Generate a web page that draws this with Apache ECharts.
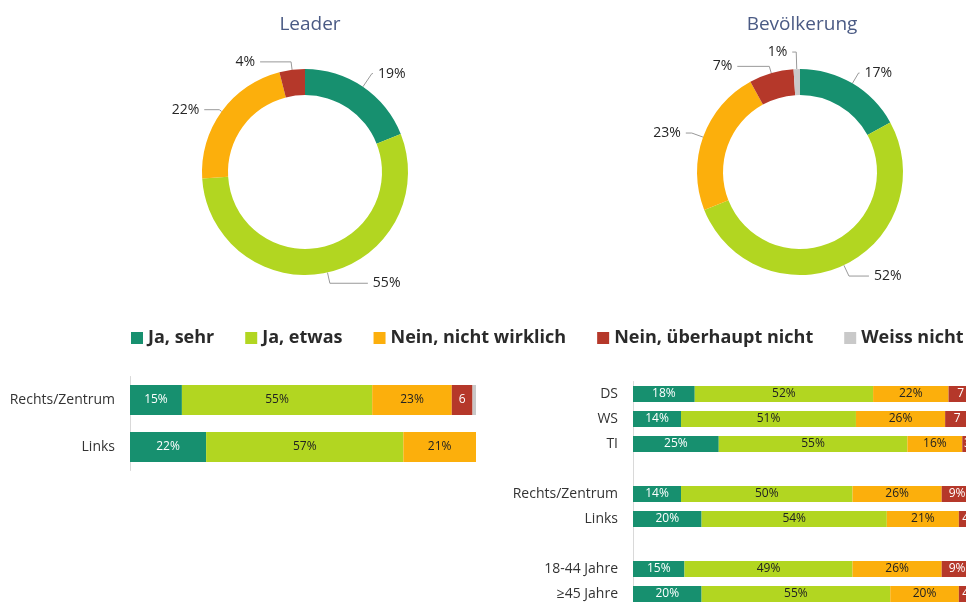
<!DOCTYPE html>
<html lang="de">
<head>
<meta charset="UTF-8">
<title>Leader / Bevölkerung</title>
<script src="https://cdn.jsdelivr.net/npm/echarts@6/dist/echarts.min.js"></script>
<style>
  html, body { margin: 0; padding: 0; background: #fff; }
  #chart { width: 966px; height: 602px; }
</style>
</head>
<body>
<div id="chart"></div>
<script>
// antwortkategorien + farben
var answers = ['Ja, sehr', 'Ja, etwas', 'Nein, nicht wirklich', 'Nein, überhaupt nicht', 'Weiss nicht'];
var colors = ['#17906f', '#b2d621', '#fcaf0c', '#b5382a', '#c9c9c9'];
var labelColors = ['#fff', '#222', '#222', '#fff', '#222'];

// ringe oben
var leaderPie = [19, 55, 22, 4];
var bevPie = [17, 52, 23, 7, 1];

// links: Leader nach politik
var leftCats = ['Rechts/Zentrum', 'Links'];
var leftVals = [
    [15, 22],
    [55, 57],
    [23, 21],
    [6, 0],
    [1, 0]
];

// rechts: Bevölkerung nach region, politik, alter ('' = luecke)
var rightCats = ['DS', 'WS', 'TI', '', 'Rechts/Zentrum', 'Links', '', '18-44 Jahre', '≥45 Jahre'];
var rightVals = [
    [18, 14, 25, null, 14, 20, null, 15, 20],
    [52, 51, 55, null, 50, 54, null, 49, 55],
    [22, 26, 16, null, 26, 21, null, 26, 20],
    [7, 7, 3, null, 9, 4, null, 9, 4],
    [1, 2, 1, null, 1, 1, null, 1, 1]
];

// fuehrungslinien [length, length2] je segment
var leaderLines = [[16, 1], [11, 38], [3, 15], [8, 31]];
var bevLines = [[12, 1], [12, 20], [12, 6], [7, 32], [17, 4]];

var chart = echarts.init(document.getElementById('chart'));
var font = '"Open Sans", sans-serif';

function pieData(vals, lines) {
    return vals.map(function (v, i) {
        return {
            name: answers[i], value: v,
            itemStyle: { color: colors[i] },
            labelLine: { length: lines[i][0], length2: lines[i][1] }
        };
    });
}

function barLabel(p) {
    if (!p.value) return '';
    // schmale segmente ohne %
    return p.value < 8 ? String(p.value) : p.value + '%';
}

var series = [];
[[leaderPie, leaderLines, [305, 172]], [bevPie, bevLines, [800, 172]]].forEach(function (p) {
    series.push({
        type: 'pie',
        center: p[2],
        radius: [77, 103],
        startAngle: 90,
        clockwise: true,
        avoidLabelOverlap: false,
        data: pieData(p[0], p[1]),
        label: {
            formatter: '{c}%',
            fontFamily: font,
            fontSize: 14,
            color: '#262626'
        },
        labelLine: { lineStyle: { color: '#999' } },
        emphasis: { disabled: true }
    });
});

answers.forEach(function (a, i) {
    var common = {
        type: 'bar',
        name: a,
        itemStyle: { color: colors[i] },
        label: {
            show: i < 4,
            position: 'inside',
            formatter: barLabel,
            fontFamily: font,
            fontSize: 12,
            color: labelColors[i]
        },
        emphasis: { disabled: true }
    };
    series.push(Object.assign({}, common, {
        stack: 'left',
        xAxisIndex: 0, yAxisIndex: 0, barWidth: 30,
        data: leftVals[i]
    }));
    series.push(Object.assign({}, common, {
        stack: 'right',
        xAxisIndex: 1, yAxisIndex: 1, barWidth: 16,
        data: rightVals[i]
    }));
});

var yAxisCommon = {
    type: 'category',
    inverse: true,
    axisTick: { show: false },
    axisLine: { show: true, lineStyle: { color: '#d9d9d9' } },
    axisLabel: { fontFamily: font, fontSize: 14, color: '#333', margin: 15 }
};

chart.setOption({
    animation: false,
    title: [
        { text: 'Leader', left: 305, top: 10, textAlign: 'center',
          textStyle: { fontFamily: font, fontSize: 19, fontWeight: 'normal', color: '#4a5a84' } },
        { text: 'Bevölkerung', left: 797, top: 10, textAlign: 'center',
          textStyle: { fontFamily: font, fontSize: 19, fontWeight: 'normal', color: '#4a5a84' } }
    ],
    legend: {
        data: answers,
        left: 131,
        top: 329,
        padding: 0,
        width: 1200,
        icon: 'rect',
        itemWidth: 12,
        itemHeight: 12,
        itemGap: 31,
        textStyle: { fontFamily: font, fontSize: 18, fontWeight: 'bold', color: '#2a2a2a' },
        selectedMode: false
    },
    grid: [
        { left: 130, top: 376.5, width: 346, height: 94, outerBoundsMode: 'none' },
        { left: 633, top: 381.5, width: 343, height: 225, outerBoundsMode: 'none' }
    ],
    xAxis: [
        { gridIndex: 0, type: 'value', min: 0, max: 100, show: false },
        { gridIndex: 1, type: 'value', min: 0, max: 100, show: false }
    ],
    yAxis: [
        Object.assign({ gridIndex: 0, data: leftCats }, yAxisCommon),
        Object.assign({ gridIndex: 1, data: rightCats }, yAxisCommon)
    ],
    series: series
});
</script>
</body>
</html>
